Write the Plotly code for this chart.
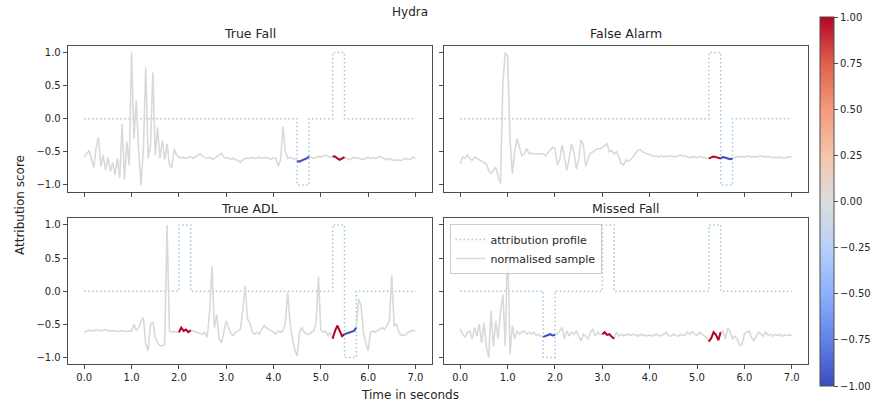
import numpy as np
import plotly.graph_objects as go
import plotly.colors as pc
from plotly.subplots import make_subplots

# ---------------- data ----------------
PANEL_TITLES = ["True Fall", "False Alarm", "True ADL", "Missed Fall"]
SUPTITLE = "Hydra"
X_TICKS = [0, 1, 2, 3, 4, 5, 6, 7]
Y_TICKS = [-1.0, -0.5, 0.0, 0.5, 1.0]
CBAR_TICKS = [-1.0, -0.75, -0.5, -0.25, 0.0, 0.25, 0.5, 0.75, 1.0]

# sample times (seconds), 0.05 s step
TIME = np.round(np.arange(0, 141) * 0.05, 2)

TRUE_FALL_SAMPLE = [
    -0.58, -0.52, -0.48, -0.60, -0.74, -0.45, -0.28, -0.72, -0.55, -0.78,
    -0.58, -0.80, -0.66, -0.85, -0.60, -0.90, -0.08, -0.92, -0.35, -0.70,
    1.00, -0.30, 0.28, -0.50, -1.00, -0.45, 0.78, -0.60, -0.40, 0.70,
    -0.55, -0.13, -0.60, -0.33, -0.62, -0.38, -0.69, -0.74, -0.46, -0.55,
    -0.58, -0.59, -0.58, -0.60, -0.59, -0.57, -0.60, -0.58, -0.55, -0.53,
    -0.57, -0.59, -0.60, -0.58, -0.61, -0.60, -0.58, -0.55, -0.52, -0.58,
    -0.60, -0.59, -0.61, -0.60, -0.62, -0.63, -0.66, -0.62, -0.60, -0.59,
    -0.60, -0.58, -0.60, -0.59, -0.58, -0.60, -0.59, -0.58, -0.60, -0.61,
    -0.59, -0.60, -0.72, -0.62, -0.12, -0.50, -0.60, -0.58, -0.60, -0.61,
    -0.64, -0.65, -0.63, -0.62, -0.60, -0.57, -0.58, -0.60, -0.59, -0.57,
    -0.58, -0.56, -0.55, -0.57, -0.58, -0.57, -0.57, -0.60, -0.62, -0.60,
    -0.58, -0.60, -0.62, -0.60, -0.58, -0.60, -0.59, -0.61, -0.62, -0.60,
    -0.58, -0.60, -0.59, -0.60, -0.58, -0.57, -0.59, -0.61, -0.62, -0.60,
    -0.61, -0.63, -0.62, -0.62, -0.63, -0.61, -0.60, -0.62, -0.61, -0.58,
    -0.60,
]
FALSE_ALARM_SAMPLE = [
    -0.68, -0.58, -0.60, -0.55, -0.60, -0.63, -0.58, -0.60, -0.63, -0.64,
    -0.66, -0.68, -0.78, -0.83, -0.78, -0.73, -0.88, -0.98, 0.55, 1.00,
    0.95, -0.30, -0.83, -0.50, -0.30, -0.43, -0.56, -0.53, -0.45, -0.53,
    -0.52, -0.53, -0.53, -0.53, -0.54, -0.53, -0.56, -0.52, -0.47, -0.43,
    -0.45, -0.70, -0.62, -0.40, -0.58, -0.78, -0.60, -0.38, -0.50, -0.76,
    -0.62, -0.32, -0.40, -0.72, -0.60, -0.52, -0.50, -0.48, -0.45, -0.46,
    -0.43, -0.40, -0.38, -0.50, -0.48, -0.53, -0.50, -0.58, -0.68, -0.70,
    -0.62, -0.65, -0.62, -0.58, -0.52, -0.48, -0.47, -0.50, -0.52, -0.53,
    -0.54, -0.56, -0.57, -0.56, -0.58, -0.56, -0.58, -0.56, -0.57, -0.56,
    -0.57, -0.58, -0.56, -0.55, -0.57, -0.56, -0.58, -0.59, -0.57, -0.58,
    -0.59, -0.57, -0.58, -0.60, -0.60, -0.60, -0.58, -0.57, -0.58, -0.59,
    -0.60, -0.58, -0.59, -0.60, -0.61, -0.60, -0.58, -0.57, -0.58, -0.57,
    -0.58, -0.57, -0.56, -0.58, -0.57, -0.58, -0.57, -0.56, -0.57, -0.58,
    -0.57, -0.58, -0.59, -0.58, -0.59, -0.58, -0.59, -0.60, -0.58, -0.58,
    -0.58,
]
TRUE_ADL_SAMPLE = [
    -0.62, -0.60, -0.59, -0.60, -0.60, -0.58, -0.59, -0.60, -0.59, -0.58,
    -0.60, -0.60, -0.59, -0.60, -0.61, -0.60, -0.60, -0.60, -0.61, -0.60,
    -0.60, -0.50, -0.60, -0.55, -0.45, -0.40, -0.80, -0.90, -0.50, -0.46,
    -0.70, -0.78, -0.82, -0.83, -0.80, 1.00, -0.60, -0.62, -0.61, -0.62,
    -0.62, -0.55, -0.60, -0.58, -0.62, -0.59, -0.60, -0.61, -0.62, -0.63,
    -0.65, -0.62, -0.70, -0.30, 0.38, -0.55, -0.35, -0.72, -0.78, -0.62,
    -0.45, -0.55, -0.65, -0.67, -0.62, -0.60, -0.58, -0.28, 0.08, -0.42,
    -0.48, -0.62, -0.65, -0.62, -0.65, -0.58, -0.52, -0.55, -0.58, -0.60,
    -0.62, -0.65, -0.60, -0.62, -0.60, -0.48, -0.02, -0.48, -0.72, -0.88,
    -0.98, -0.62, -0.55, -0.62, -0.65, -0.65, -0.62, -0.60, -0.48, 0.22,
    -0.58, -0.62, -0.60, -0.67, -0.62, -0.72, -0.60, -0.52, -0.60, -0.68,
    -0.65, -0.64, -0.62, -0.62, -0.60, -0.55, -0.12, -0.22, -0.62, -0.78,
    -0.90, -0.62, -0.60, -0.62, -0.60, -0.58, -0.55, -0.58, -0.52, -0.45,
    0.24, -0.52, -0.50, -0.62, -0.67, -0.67, -0.66, -0.62, -0.60, -0.59,
    -0.60,
]
MISSED_FALL_SAMPLE = [
    -0.57, -0.65, -0.70, -0.62, -0.60, -0.72, -0.55, -0.68, -0.50, -0.78,
    -0.48, -0.83, -1.00, -0.30, -0.83, -0.45, -0.72, -0.32, -0.05, -0.83,
    0.75, -0.95, -0.52, -0.72, -0.60, -0.65, -0.62, -0.60, -0.65, -0.62,
    -0.65, -0.62, -0.67, -0.65, -0.68, -0.69, -0.68, -0.66, -0.65, -0.67,
    -0.66, -0.65, -0.60, -0.55, -0.72, -0.60, -0.68, -0.62, -0.65, -0.60,
    -0.68, -0.75, -0.65, -0.68, -0.72, -0.62, -0.58, -0.68, -0.62, -0.65,
    -0.65, -0.62, -0.66, -0.65, -0.69, -0.72, -0.62, -0.68, -0.65, -0.67,
    -0.66, -0.65, -0.67, -0.65, -0.66, -0.68, -0.65, -0.67, -0.66, -0.68,
    -0.66, -0.68, -0.66, -0.65, -0.68, -0.67, -0.65, -0.62, -0.67, -0.68,
    -0.65, -0.67, -0.68, -0.65, -0.67, -0.66, -0.62, -0.65, -0.61, -0.65,
    -0.67, -0.62, -0.65, -0.67, -0.70, -0.76, -0.71, -0.62, -0.66, -0.74,
    -0.62, -0.60, -0.72, -0.55, -0.62, -0.72, -0.68, -0.72, -0.82, -0.80,
    -0.65, -0.62, -0.60, -0.70, -0.75, -0.68, -0.62, -0.65, -0.68, -0.62,
    -0.67, -0.65, -0.68, -0.65, -0.67, -0.65, -0.68, -0.66, -0.67, -0.66,
    -0.67,
]

# attribution windows: start (s), end (s), attribution value
TRUE_FALL_WIN_START = [4.50, 5.25]
TRUE_FALL_WIN_END = [4.75, 5.50]
TRUE_FALL_WIN_VAL = [-1.0, 1.0]

FALSE_ALARM_WIN_START = [5.25, 5.50]
FALSE_ALARM_WIN_END = [5.50, 5.75]
FALSE_ALARM_WIN_VAL = [1.0, -1.0]

TRUE_ADL_WIN_START = [2.00, 5.25, 5.50]
TRUE_ADL_WIN_END = [2.25, 5.50, 5.75]
TRUE_ADL_WIN_VAL = [1.0, 1.0, -1.0]

MISSED_FALL_WIN_START = [1.75, 3.00, 5.25]
MISSED_FALL_WIN_END = [2.00, 3.25, 5.50]
MISSED_FALL_WIN_VAL = [-1.0, 1.0, 1.0]

# ---------------- style ----------------
W, H = 875, 404
COOLWARM = [
    [0.0, "rgb(59,76,192)"], [0.125, "rgb(98,130,234)"], [0.25, "rgb(141,176,254)"],
    [0.375, "rgb(184,208,249)"], [0.5, "rgb(221,221,221)"], [0.625, "rgb(245,196,173)"],
    [0.75, "rgb(244,154,123)"], [0.875, "rgb(222,96,77)"], [1.0, "rgb(180,4,38)"],
]
TEXT = "#262626"
AXLINE = "#4d4d4d"
FONT = "DejaVu Sans"
PROFILE_COLOR = "rgba(31,119,180,0.42)"
SAMPLE_COLOR = "#d9d9d9"

panels = [
    (TRUE_FALL_SAMPLE, TRUE_FALL_WIN_START, TRUE_FALL_WIN_END, TRUE_FALL_WIN_VAL),
    (FALSE_ALARM_SAMPLE, FALSE_ALARM_WIN_START, FALSE_ALARM_WIN_END, FALSE_ALARM_WIN_VAL),
    (TRUE_ADL_SAMPLE, TRUE_ADL_WIN_START, TRUE_ADL_WIN_END, TRUE_ADL_WIN_VAL),
    (MISSED_FALL_SAMPLE, MISSED_FALL_WIN_START, MISSED_FALL_WIN_END, MISSED_FALL_WIN_VAL),
]
for p in panels:
    assert len(p[0]) == len(TIME)

fig = make_subplots(rows=2, cols=2, shared_xaxes=True, shared_yaxes=True)
positions = [(1, 1), (1, 2), (2, 1), (2, 2)]

for k, ((sample, ws, we, wv), (r, c)) in enumerate(zip(panels, positions)):
    leg = (k == 3)
    # attribution profile (step function)
    px, py = [float(TIME[0])], [0.0]
    for s, e, v in zip(ws, we, wv):
        px += [s, s, e, e]
        py += [0.0, v, v, 0.0]
    px.append(float(TIME[-1]))
    py.append(0.0)
    fig.add_trace(go.Scatter(
        x=px, y=py, mode="lines", name="attribution profile",
        line=dict(color=PROFILE_COLOR, width=1.5, dash="1.5px,2.5px"),
        showlegend=leg, hoverinfo="skip"), row=r, col=c)
    # normalised sample
    fig.add_trace(go.Scatter(
        x=TIME, y=sample, mode="lines", name="normalised sample",
        line=dict(color=SAMPLE_COLOR, width=1.6),
        showlegend=leg, hoverinfo="skip"), row=r, col=c)
    # coloured attribution segments on the sample
    arr = np.array(sample)
    for s, e, v in zip(ws, we, wv):
        m = (TIME >= s - 1e-9) & (TIME <= e + 1e-9)
        col = pc.sample_colorscale(COOLWARM, [(v + 1) / 2])[0]
        fig.add_trace(go.Scatter(
            x=TIME[m], y=arr[m], mode="lines",
            line=dict(color=col, width=2), showlegend=False, hoverinfo="skip"),
            row=r, col=c)

# colorbar via dummy trace
fig.add_trace(go.Scatter(
    x=[None], y=[None], mode="markers", showlegend=False, hoverinfo="skip",
    marker=dict(color=[0], colorscale=COOLWARM, cmin=-1, cmax=1, showscale=True,
                colorbar=dict(
                    thickness=14, thicknessmode="pixels",
                    len=369 / H, lenmode="fraction",
                    x=819.5 / W, xanchor="left", y=1 - 201.5 / H, yanchor="middle",
                    xpad=0, ypad=0, outlinewidth=1, outlinecolor=AXLINE,
                    tickvals=CBAR_TICKS, tickformat=".2f", ticks="outside",
                    ticklen=4, tickwidth=1, tickcolor=AXLINE,
                    tickfont=dict(family=FONT, size=10, color=TEXT)))),
    row=1, col=1)

xdom = [[67.7 / W, 432.0 / W], [443.7 / W, 808.3 / W]]
ydom = [[1 - 191.5 / H, 1 - 46.0 / H], [1 - 364.0 / H, 1 - 218.3 / H]]

axis_common = dict(showline=True, linecolor=AXLINE, linewidth=1, mirror=True,
                   ticks="outside", ticklen=4, tickwidth=1, tickcolor=AXLINE,
                   showgrid=False, zeroline=False,
                   tickfont=dict(family=FONT, size=10, color=TEXT))

for k, (r, c) in enumerate(positions):
    sfx = "" if k == 0 else str(k + 1)
    fig.layout["xaxis" + sfx].update(
        domain=xdom[c - 1], range=[-0.35, 7.35], tickvals=X_TICKS, tickformat=".1f",
        showticklabels=(r == 2), **axis_common)
    fig.layout["yaxis" + sfx].update(
        domain=ydom[r - 1], range=[-1.1, 1.1], tickvals=Y_TICKS, tickformat=".1f",
        showticklabels=(c == 1), **axis_common)

annotations = [
    dict(text=SUPTITLE, x=410 / W, y=1 - 12 / H, font=dict(size=12)),
    dict(text=PANEL_TITLES[0], x=(xdom[0][0] + xdom[0][1]) / 2, y=1 - 34 / H, font=dict(size=12.5)),
    dict(text=PANEL_TITLES[1], x=(xdom[1][0] + xdom[1][1]) / 2, y=1 - 34 / H, font=dict(size=12.5)),
    dict(text=PANEL_TITLES[2], x=(xdom[0][0] + xdom[0][1]) / 2, y=1 - 208 / H, font=dict(size=12.5)),
    dict(text=PANEL_TITLES[3], x=(xdom[1][0] + xdom[1][1]) / 2, y=1 - 208 / H, font=dict(size=12.5)),
    dict(text="Time in seconds", x=410 / W, y=1 - 395 / H, font=dict(size=12)),
    dict(text="Attribution score", x=20 / W, y=1 - 205 / H, textangle=-90, font=dict(size=12)),
]
for a in annotations:
    a.update(xref="paper", yref="paper", showarrow=False, xanchor="center", yanchor="middle")
    a["font"].update(family=FONT, color=TEXT)

fig.update_layout(
    width=W, height=H, margin=dict(l=0, r=0, t=0, b=0),
    paper_bgcolor="white", plot_bgcolor="white",
    font=dict(family=FONT, color=TEXT, size=10),
    annotations=annotations,
    legend=dict(x=449.5 / W, y=1 - 224 / H, xanchor="left", yanchor="top",
                bgcolor="rgba(255,255,255,0.8)", bordercolor="#cccccc", borderwidth=1,
                font=dict(family=FONT, size=11, color=TEXT), tracegroupgap=0,
                itemwidth=30),
)

fig.write_html("out.html")
